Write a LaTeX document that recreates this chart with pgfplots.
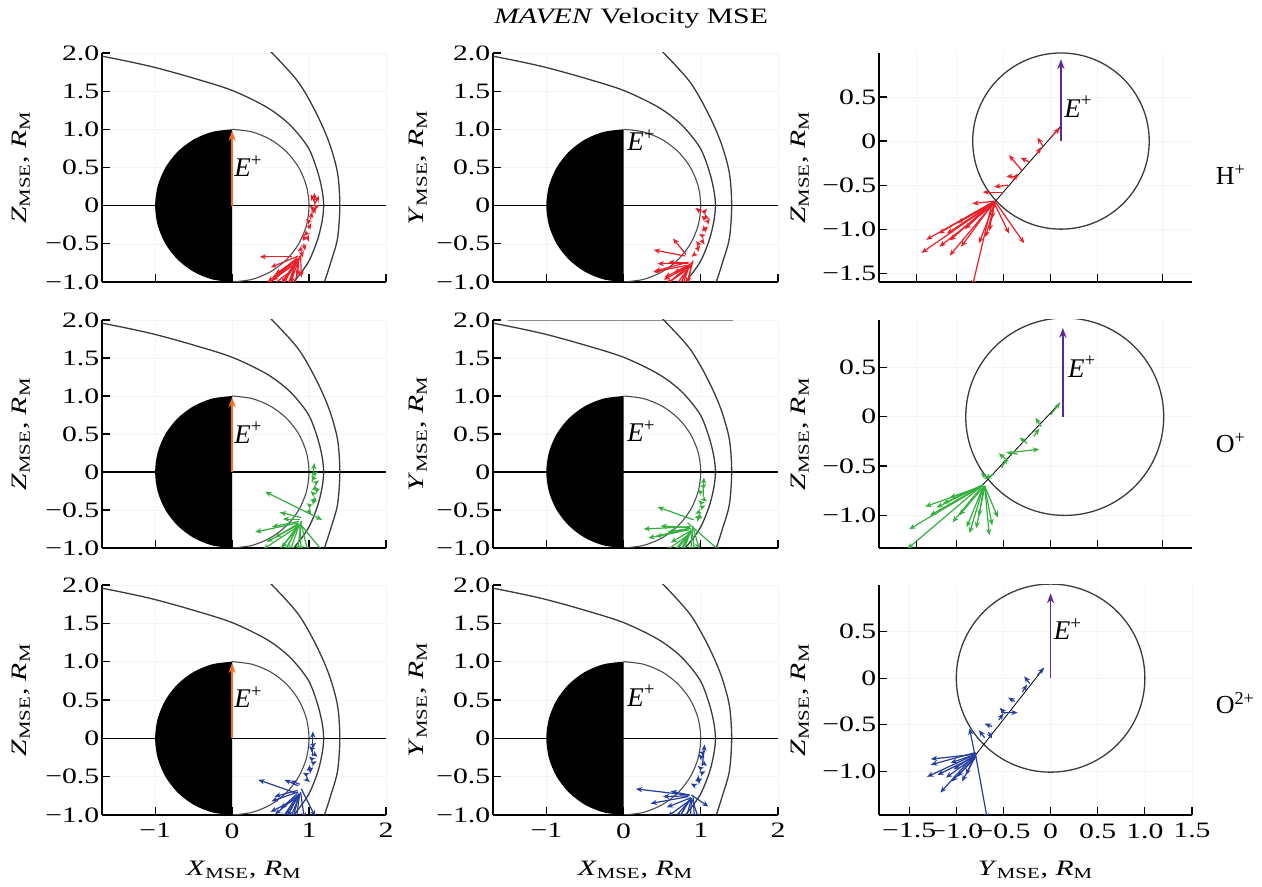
\documentclass[border=0pt]{standalone}
\usepackage{fontspec}
\setmainfont{Liberation Serif}[FakeStretch=1.35]
\newfontfamily\plainserif{Liberation Serif}
\usepackage{pgfplots}
\pgfplotsset{compat=1.18}
\usepackage{pgfplotstable}
\usetikzlibrary{arrows.meta}

\definecolor{vred}{RGB}{235,30,40}
\definecolor{vgreen}{RGB}{50,175,60}
\definecolor{vblue}{RGB}{35,60,160}
\definecolor{eorange}{RGB}{245,110,25}
\definecolor{epurple}{RGB}{95,40,150}
\definecolor{bgray}{RGB}{55,60,60}

\newcommand{\tl}[1]{\textrm{#1}}

% ---------- boundaries ----------
\pgfplotstableread{
x y
-1.80 1.98
-1.40 1.90
-1.00 1.81
-0.50 1.67
0.00 1.51
0.45 1.29
0.75 1.06
0.99 0.76
1.11 0.45
1.17 0.20
1.19 0.00
1.17 -0.20
1.11 -0.45
0.99 -0.74
0.80 -1.00
0.62 -1.18
}\mpb
\pgfplotstableread{
x y
0.30 2.20
0.52 2.00
0.86 1.62
1.09 1.22
1.26 0.83
1.37 0.43
1.40 0.00
1.37 -0.43
1.28 -0.75
1.20 -1.00
1.12 -1.20
}\bs
\pgfplotstableread{
x y
0 1
-0.259 0.966
-0.5 0.866
-0.707 0.707
-0.866 0.5
-0.966 0.259
-1 0
-0.966 -0.259
-0.866 -0.5
-0.707 -0.707
-0.5 -0.866
-0.259 -0.966
0 -1
}\nightside
\pgfplotstableread{
x y
0 1
0.259 0.966
0.5 0.866
0.707 0.707
0.866 0.5
0.966 0.259
1 0
0.966 -0.259
0.866 -0.5
0.707 -0.707
0.5 -0.866
0.259 -0.966
0 -1
}\dayside

% ---------- velocity vectors ----------
\pgfplotstableread{
x y u v
1.07 0.00 0.00 0.17
1.07 0.05 -0.05 0.10
1.08 0.03 0.05 0.10
1.08 -0.02 0.06 0.03
1.06 -0.05 -0.05 0.05
1.05 -0.10 0.04 0.08
1.02 -0.18 0.02 0.10
1.01 -0.22 -0.05 0.05
0.99 -0.30 0.04 0.07
0.98 -0.35 -0.05 -0.05
0.97 -0.40 0.03 -0.07
0.95 -0.45 -0.04 0.07
0.93 -0.50 0.02 -0.09
0.91 -0.56 -0.06 -0.04
0.90 -0.60 0.02 -0.08
0.78 -0.67 -0.42 0.00
0.86 -0.66 -0.36 -0.15
0.85 -0.68 -0.33 -0.28
0.84 -0.70 -0.28 -0.20
0.86 -0.70 -0.40 -0.30
0.84 -0.72 -0.20 -0.30
0.87 -0.68 -0.02 -0.24
0.88 -0.66 -0.12 -0.36
0.83 -0.74 -0.10 -0.35
0.82 -0.76 -0.30 -0.22
0.80 -0.78 -0.22 -0.35
0.78 -0.82 -0.18 -0.25
0.76 -0.86 -0.26 -0.20
0.86 -0.72 -0.05 -0.40
0.89 -0.64 0.01 -0.30
0.74 -0.88 -0.10 -0.25
0.85 -0.70 -0.15 -0.40
0.83 -0.72 -0.38 -0.32
0.87 -0.70 -0.25 -0.38
0.81 -0.76 -0.05 -0.30
}\vA
\pgfplotstableread{
x y u v
1.00 -0.08 -0.07 0.05
1.03 -0.10 0.05 0.06
1.05 -0.14 0.06 -0.03
1.06 -0.18 -0.05 0.05
1.08 -0.22 0.04 0.05
1.06 -0.28 -0.04 -0.06
1.04 -0.33 0.05 0.06
1.03 -0.40 -0.05 0.03
1.01 -0.45 0.04 -0.06
0.98 -0.52 -0.04 0.06
0.95 -0.58 0.04 0.06
0.93 -0.63 -0.05 -0.04
0.81 -0.64 -0.17 0.21
0.80 -0.66 -0.41 0.08
0.84 -0.74 -0.44 -0.12
0.84 -0.76 -0.40 0.00
0.85 -0.75 -0.27 0.01
0.83 -0.78 -0.45 -0.09
0.84 -0.80 -0.32 -0.17
0.85 -0.78 -0.20 -0.10
0.83 -0.80 -0.35 -0.30
0.86 -0.76 -0.15 -0.32
0.84 -0.82 -0.10 -0.30
0.88 -0.74 -0.05 -0.35
0.87 -0.78 -0.22 -0.30
0.90 -0.72 -0.08 -0.30
0.82 -0.84 -0.28 -0.20
0.86 -0.78 -0.30 -0.25
0.85 -0.80 -0.18 -0.35
0.88 -0.76 -0.35 -0.18
}\vB
\pgfplotstableread{
x y u v
1.04 -0.13 0.03 0.25
1.06 -0.04 0.05 0.05
1.07 -0.10 -0.04 0.06
1.08 -0.15 0.05 0.04
1.09 -0.20 -0.05 -0.04
1.09 -0.25 0.05 0.03
1.07 -0.30 -0.05 0.05
1.06 -0.35 0.04 -0.05
1.04 -0.40 0.06 0.04
1.02 -0.45 -0.05 0.04
0.99 -0.50 0.04 -0.06
0.85 -0.47 -0.42 0.21
0.85 -0.47 0.32 -0.16
0.86 -0.67 -0.56 -0.12
0.88 -0.62 -0.22 0.00
0.90 -0.60 -0.28 0.07
0.87 -0.65 -0.35 -0.07
0.86 -0.68 -0.30 -0.18
0.85 -0.70 -0.40 -0.22
0.86 -0.70 -0.22 -0.30
0.87 -0.70 -0.12 -0.35
0.86 -0.72 -0.28 -0.35
0.88 -0.70 0.02 -0.35
0.88 -0.68 0.33 -0.40
0.84 -0.74 -0.15 -0.30
0.90 -0.64 -0.05 -0.40
0.85 -0.72 -0.45 -0.30
0.87 -0.68 -0.20 -0.40
0.89 -0.66 0.10 -0.40
}\vC
\pgfplotstableread{
x y u v
1.03 -0.33 0.01 0.26
1.02 -0.20 0.05 0.04
1.01 -0.28 -0.05 0.05
1.03 -0.35 0.05 -0.04
1.02 -0.42 -0.05 0.05
1.00 -0.47 0.06 0.03
0.99 -0.52 -0.06 -0.03
0.97 -0.57 0.05 -0.04
0.95 -0.62 0.06 0.03
0.91 -0.63 -0.47 0.17
0.83 -0.67 0.43 -0.38
0.86 -0.72 -0.60 -0.03
0.86 -0.74 -0.54 -0.13
0.86 -0.73 -0.38 0.02
0.85 -0.76 -0.43 -0.09
0.87 -0.74 -0.30 -0.05
0.86 -0.78 -0.25 -0.15
0.88 -0.76 -0.15 -0.32
0.86 -0.80 -0.10 -0.30
0.87 -0.78 -0.25 -0.30
0.89 -0.74 -0.02 -0.32
0.90 -0.72 0.08 -0.30
0.85 -0.82 -0.20 -0.25
0.88 -0.80 -0.35 -0.25
0.87 -0.76 -0.18 -0.38
0.89 -0.78 0.04 -0.35
}\vD
\pgfplotstableread{
x y u v
1.05 -0.23 0.00 0.32
1.04 -0.10 0.05 0.04
1.05 -0.15 -0.05 0.05
1.06 -0.20 0.05 -0.04
1.05 -0.28 -0.05 0.04
1.04 -0.33 0.06 0.03
1.02 -0.38 -0.05 -0.04
1.00 -0.43 0.05 0.05
0.98 -0.48 -0.06 0.03
0.96 -0.53 0.05 -0.04
0.82 -0.71 -0.48 0.17
0.86 -0.62 -0.18 0.08
0.88 -0.60 -0.12 0.05
0.85 -0.68 -0.30 -0.08
0.86 -0.70 -0.35 -0.12
0.85 -0.72 -0.22 -0.20
0.87 -0.72 -0.15 -0.30
0.90 -0.66 0.18 -0.36
0.86 -0.74 -0.30 -0.25
0.88 -0.72 -0.05 -0.35
0.84 -0.76 -0.20 -0.30
0.89 -0.70 0.05 -0.35
0.85 -0.78 -0.35 -0.18
0.87 -0.76 -0.12 -0.30
0.88 -0.74 -0.25 -0.35
0.86 -0.78 -0.08 -0.30
}\vE
\pgfplotstableread{
x y u v
1.02 -0.36 0.03 0.28
1.01 -0.20 0.05 0.04
1.02 -0.26 -0.05 0.05
1.03 -0.32 0.05 -0.04
1.01 -0.40 -0.05 0.04
1.00 -0.46 0.06 0.03
0.98 -0.52 -0.05 -0.04
0.96 -0.57 0.05 0.05
0.93 -0.62 -0.06 0.03
0.83 -0.74 -0.67 0.08
0.84 -0.76 -0.49 -0.09
0.85 -0.75 -0.34 -0.01
0.86 -0.74 -0.25 0.05
0.86 -0.78 -0.30 -0.12
0.88 -0.74 0.22 -0.15
0.86 -0.80 -0.15 -0.25
0.88 -0.78 -0.08 -0.30
0.85 -0.82 -0.22 -0.25
0.90 -0.76 0.02 -0.30
0.87 -0.80 -0.30 -0.22
0.89 -0.80 0.10 -0.30
0.87 -0.77 -0.18 -0.32
0.88 -0.80 -0.02 -0.30
}\vF
\pgfplotstableread{
x y u v
0.00 0.04 0.10 0.11
-0.08 -0.06 -0.06 0.10
-0.15 -0.15 0.05 0.08
-0.22 -0.24 -0.10 0.05
-0.30 -0.34 -0.14 0.18
-0.35 -0.40 -0.12 0.00
-0.40 -0.45 0.05 0.08
-0.45 -0.50 -0.15 -0.02
-0.52 -0.58 -0.20 0.00
-0.60 -0.70 -0.77 -0.57
-0.60 -0.70 -0.47 -0.60
-0.62 -0.70 -0.21 -0.95
-0.58 -0.70 0.30 -0.46
-0.60 -0.70 0.16 -0.35
-0.58 -0.68 -0.25 -0.03
-0.62 -0.72 -0.33 -0.48
-0.60 -0.70 -0.50 -0.35
-0.62 -0.70 -0.45 -0.43
-0.60 -0.72 -0.16 -0.44
-0.60 -0.70 -0.02 -0.18
-0.63 -0.72 -0.28 -0.28
-0.62 -0.70 -0.70 -0.42
-0.61 -0.69 -0.58 -0.36
-0.60 -0.72 -0.05 -0.30
-0.58 -0.70 -0.60 -0.50
-0.61 -0.71 -0.38 -0.22
-0.59 -0.71 -0.10 -0.38
}\vG
\pgfplotstableread{
x y u v
0.00 0.02 0.10 0.12
-0.10 -0.10 -0.06 0.09
-0.18 -0.20 0.06 0.08
-0.25 -0.27 -0.08 0.06
-0.40 -0.36 0.28 0.03
-0.35 -0.38 -0.12 0.02
-0.45 -0.45 -0.10 0.08
-0.52 -0.52 0.06 0.10
-0.60 -0.58 -0.10 -0.05
-0.66 -0.63 -0.08 0.06
-0.72 -0.69 -0.80 -0.65
-0.72 -0.70 -0.78 -0.44
-0.72 -0.69 -0.49 -0.23
-0.74 -0.70 -0.40 -0.18
-0.72 -0.70 -0.35 -0.12
-0.73 -0.71 -0.60 -0.20
-0.72 -0.72 -0.17 -0.40
-0.70 -0.72 -0.09 -0.41
-0.70 -0.70 0.05 -0.50
-0.70 -0.70 0.14 -0.32
-0.72 -0.72 -0.25 -0.28
-0.71 -0.71 -0.05 -0.30
-0.74 -0.72 -0.30 -0.35
-0.70 -0.70 0.08 -0.40
-0.73 -0.70 -0.55 -0.30
-0.71 -0.70 -0.15 -0.48
}\vH
\pgfplotstableread{
x y u v
-0.14 0.03 0.07 0.08
-0.22 -0.06 -0.06 0.08
-0.30 -0.15 0.05 0.08
-0.38 -0.25 -0.07 0.04
-0.53 -0.37 0.18 0.00
-0.48 -0.38 -0.06 0.06
-0.55 -0.45 0.05 0.07
-0.62 -0.52 -0.08 0.03
-0.66 -0.58 0.04 -0.07
-0.70 -0.64 -0.06 0.08
-0.80 -0.84 -0.06 0.30
-0.80 -0.80 0.13 -0.72
-0.80 -0.82 -0.51 -0.24
-0.80 -0.80 -0.47 -0.13
-0.82 -0.84 -0.35 -0.39
-0.80 -0.84 -0.19 -0.22
-0.80 -0.84 -0.10 -0.20
-0.80 -0.82 -0.26 -0.09
-0.81 -0.85 -0.30 -0.22
-0.80 -0.84 -0.40 -0.20
-0.79 -0.83 -0.15 -0.28
-0.82 -0.82 -0.45 -0.05
-0.80 -0.86 -0.25 -0.25
-0.81 -0.83 -0.22 -0.15
}\vI

\pgfplotsset{
  panel/.style={scale only axis, anchor=south west,
    axis x line*=bottom, axis y line*=left,
    axis line style={-, black, line width=0.6pt},
    every tick/.style={black, line width=0.6pt},
    major tick length=4pt, tick align=inside,
    grid=major, major grid style={black!4, line width=0.3pt},
    yticklabel style={inner sep=1.2pt},
    xticklabel style={inner sep=2pt, yshift=-2pt},
    every axis y label/.style={at={(axis description cs:#1,0.5)}, rotate=90, anchor=center},
    every axis x label/.style={at={(axis description cs:0.5,-0.24)}, anchor=center}},
  leftcol/.style={panel=-0.285, width=142pt, xmin=-1.69, xmax=2, ymin=-1, ymax=2,
    xtick={-1,0,1,2}, ytick={-1,-0.5,0,0.5,1,1.5,2},
    yticklabels={\tl{−1.0},\tl{−0.5},\tl{0},\tl{0.5},\tl{1.0},\tl{1.5},\tl{2.0}}},
  midcol/.style={panel=-0.263, width=142.5pt, xmin=-1.69, xmax=2, ymin=-1, ymax=2,
    xtick={-1,0,1,2}, ytick={-1,-0.5,0,0.5,1,1.5,2},
    yticklabels={\tl{−1.0},\tl{−0.5},\tl{0},\tl{0.5},\tl{1.0},\tl{1.5},\tl{2.0}}},
  rightcol/.style={panel=-0.252, width=156.5pt, xmin=-1.82, xmax=1.5},
  vec/.style={#1, line width=0.6pt, -{Stealth[length=3.2pt,width=2.6pt]},
    quiver={u=\thisrow{u}, v=\thisrow{v}}},
  bnd/.style={bgray, line width=0.65pt, smooth},
}

\newcommand{\marsXZ}[1]{%
  \addplot[fill=black, draw=none, smooth] table {\nightside};
  \addplot[black!70, line width=0.55pt, smooth] table {\dayside};
  \addplot[black, line width=0.6pt] coordinates {(-1.69,0) (2,0)};
  \addplot[bnd] table {\mpb};
  \addplot[bnd] table {\bs};
}
\newcommand{\elabel}[2]{\node[anchor=base west, inner sep=1pt, font=\plainserif\fontsize{13.5}{14}\selectfont] at (axis cs:#1,#2) {\textit{E}\textsuperscript{+}};}

\begin{document}
\fontsize{11}{13}\selectfont
\begin{tikzpicture}
\useasboundingbox (0,0) rectangle (631pt,443.5pt);

\node at (315.5pt,434.5pt) {\textit{MAVEN} Velocity MSE};
\node[anchor=west, font=\plainserif\fontsize{13}{14}\selectfont] at (604pt,356pt) {H\textsuperscript{+}};
\node[anchor=west, font=\plainserif\fontsize{13}{14}\selectfont] at (604pt,222pt) {O\textsuperscript{+}};
\node[anchor=west, font=\plainserif\fontsize{13}{14}\selectfont] at (604pt,92pt) {O\textsuperscript{2+}};

% ===== Row 1 =====
\begin{axis}[leftcol, at={(51pt,302.5pt)}, height=114.5pt, xticklabels=\empty,
  ylabel={\textit{Z}\textsubscript{MSE}, \textit{R}\textsubscript{M}}]
  \marsXZ{}
  \addplot[vec=vred] table {\vA};
  \addplot[eorange, line width=0.7pt, -{Stealth[length=5pt,width=3.6pt]}] coordinates {(0,0) (0,0.98)};
  \elabel{0.0}{0.38}
\end{axis}
\begin{axis}[midcol, at={(246.5pt,302.5pt)}, height=114.5pt, xticklabels=\empty,
  ylabel={\textit{Y}\textsubscript{MSE}, \textit{R}\textsubscript{M}}]
  \marsXZ{}
  \addplot[vec=vred] table {\vB};
  \elabel{0.02}{0.72}
\end{axis}
\begin{axis}[rightcol, at={(439.5pt,302.5pt)}, height=114.5pt, ymin=-1.6, ymax=1.0,
  xtick={-1.42,-1,-0.5,0,0.5,1.19}, xticklabels=\empty,
  ytick={-1.5,-1,-0.5,0,0.5}, yticklabels={\tl{−1.5},\tl{−1.0},\tl{−0.5},\tl{0},\tl{0.5}},
  ylabel={\textit{Z}\textsubscript{MSE}, \textit{R}\textsubscript{M}}]
  \draw[bgray, line width=0.65pt] (axis cs:0.11,0) ellipse [x radius=0.936, y radius=1];
  \addplot[black, line width=0.4pt] coordinates {(0.10,0.16) (-0.60,-0.70)};
  \addplot[vec=vred] table {\vG};
  \addplot[epurple, line width=0.7pt, -{Stealth[length=5pt,width=3.6pt]}] coordinates {(0.11,0) (0.11,0.93)};
  \elabel{0.12}{0.27}
\end{axis}

% ===== Row 2 =====
\begin{axis}[leftcol, at={(51pt,169.5pt)}, height=114pt, xticklabels=\empty,
  ylabel={\textit{Z}\textsubscript{MSE}, \textit{R}\textsubscript{M}}]
  \marsXZ{}
  \addplot[vec=vgreen] table {\vC};
  \addplot[eorange, line width=0.7pt, -{Stealth[length=5pt,width=3.6pt]}] coordinates {(0,0) (0,0.98)};
  \elabel{0.0}{0.38}
\end{axis}
\begin{axis}[midcol, at={(246.5pt,169.5pt)}, height=114pt, xticklabels=\empty,
  ylabel={\textit{Y}\textsubscript{MSE}, \textit{R}\textsubscript{M}}]
  \addplot[black!45, line width=0.5pt] coordinates {(-1.49,1.995) (1.42,1.995)};
  \marsXZ{}
  \addplot[vec=vgreen] table {\vD};
  \elabel{0.02}{0.40}
\end{axis}
\begin{axis}[rightcol, at={(439.5pt,169.5pt)}, height=114pt, ymin=-1.33, ymax=0.98,
  xtick={-1.42,-1,-0.5,0,0.5,1.19}, xticklabels=\empty,
  ytick={-1,-0.5,0,0.5}, yticklabels={\tl{−1.0},\tl{−0.5},\tl{0},\tl{0.5}},
  ylabel={\textit{Z}\textsubscript{MSE}, \textit{R}\textsubscript{M}}]
  \draw[bgray, line width=0.65pt] (axis cs:0.15,0) ellipse [x radius=1.05, y radius=1];
  \addplot[black, line width=0.4pt] coordinates {(0.10,0.14) (-0.72,-0.69)};
  \addplot[vec=vgreen] table {\vH};
  \addplot[epurple, line width=0.7pt, -{Stealth[length=5pt,width=3.6pt]}] coordinates {(0.13,0) (0.13,0.90)};
  \elabel{0.16}{0.40}
\end{axis}

% ===== Row 3 =====
\begin{axis}[leftcol, at={(51pt,36pt)}, height=115pt,
  xticklabels={\tl{−1},\tl{0},\tl{1},\tl{2}},
  xlabel={\textit{X}\textsubscript{MSE}, \textit{R}\textsubscript{M}},
  ylabel={\textit{Z}\textsubscript{MSE}, \textit{R}\textsubscript{M}}]
  \marsXZ{}
  \addplot[vec=vblue] table {\vE};
  \addplot[eorange, line width=0.7pt, -{Stealth[length=5pt,width=3.6pt]}] coordinates {(0,0) (0,0.98)};
  \elabel{0.0}{0.40}
\end{axis}
\begin{axis}[midcol, at={(246.5pt,36pt)}, height=115pt,
  xticklabels={\tl{−1},\tl{0},\tl{1},\tl{2}},
  xlabel={\textit{X}\textsubscript{MSE}, \textit{R}\textsubscript{M}},
  ylabel={\textit{Y}\textsubscript{MSE}, \textit{R}\textsubscript{M}}]
  \marsXZ{}
  \addplot[vec=vblue] table {\vF};
  \elabel{0.02}{0.42}
\end{axis}
\begin{axis}[rightcol, at={(439.5pt,36pt)}, height=115pt, ymin=-1.47, ymax=1.0,
  xtick={-1.5,-1,-0.5,0,0.5,1,1.5},
  xticklabels={\tl{−1.5},\tl{−1.0},\tl{−0.5},\tl{0},\tl{0.5},\tl{1.0},\tl{1.5}},
  ytick={-1,-0.5,0,0.5}, yticklabels={\tl{−1.0},\tl{−0.5},\tl{0},\tl{0.5}},
  xlabel={\textit{Y}\textsubscript{MSE}, \textit{R}\textsubscript{M}},
  ylabel={\textit{Z}\textsubscript{MSE}, \textit{R}\textsubscript{M}}]
  \draw[bgray, line width=0.65pt] (axis cs:0,0) ellipse [x radius=1, y radius=1.01];
  \addplot[black, line width=0.4pt] coordinates {(-0.07,0.11) (-0.80,-0.83)};
  \addplot[vec=vblue] table {\vI};
  \addplot[epurple, line width=0.7pt, -{Stealth[length=5pt,width=3.6pt]}] coordinates {(0,0) (0,0.91)};
  \elabel{0.01}{0.41}
\end{axis}
\end{tikzpicture}
\end{document}
